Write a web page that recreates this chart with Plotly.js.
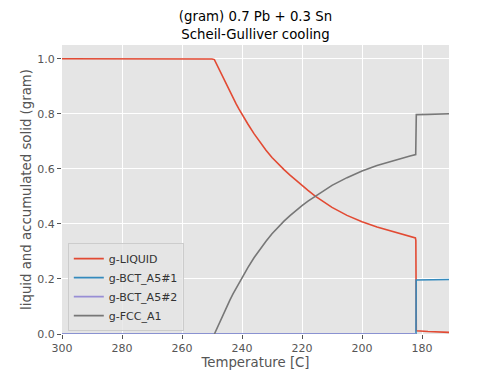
<!DOCTYPE html>
<html>
<head>
<meta charset="utf-8">
<script src="https://cdn.plot.ly/plotly-3.0.1.min.js"></script>
<style>html,body{margin:0;padding:0;background:#fff;}#chart{width:500px;height:375px;}</style>
</head>
<body>
<div id="chart"></div>
<script>
// Temperatures (C) and values (gram)
var liquidT = [300, 260, 250, 249.2, 248, 247, 246, 245, 244, 243, 242, 241, 240, 238, 236, 234, 232, 230, 228, 226, 224, 222, 220, 218, 215.6, 213, 210, 205, 200, 195, 190, 186, 184, 182.2, 182.05, 182.0, 181.9, 178, 171];
var liquidG = [1.0, 1.0, 0.999, 0.997, 0.970, 0.946, 0.923, 0.900, 0.878, 0.857, 0.837, 0.817, 0.798, 0.762, 0.728, 0.697, 0.668, 0.641, 0.618, 0.597, 0.577, 0.558, 0.540, 0.522, 0.501, 0.481, 0.460, 0.431, 0.408, 0.389, 0.373, 0.361, 0.355, 0.349, 0.34, 0.013, 0.012, 0.009, 0.006];

var bct1T = [300, 182.0, 181.95, 171];
var bct1G = [0, 0, 0.196, 0.198];

var bct2T = [300, 250, 200, 182.0];
var bct2G = [0, 0, 0, 0];

var fccT = [249.2, 248, 247, 246, 245, 244, 243, 242, 241, 240, 238, 236, 234, 232, 230, 228, 226, 224, 222, 220, 218, 215.6, 213, 210, 205, 200, 195, 190, 186, 184, 182.1, 182.0, 181.9, 178, 171];
var fccG = [0, 0.03, 0.055, 0.078, 0.102, 0.124, 0.146, 0.166, 0.186, 0.206, 0.242, 0.277, 0.308, 0.337, 0.364, 0.388, 0.41, 0.43, 0.449, 0.466, 0.483, 0.501, 0.52, 0.54, 0.568, 0.592, 0.612, 0.629, 0.641, 0.647, 0.652, 0.797, 0.797, 0.798, 0.80];

var xTicks = [300, 280, 260, 240, 220, 200, 180];
var yTicks = [0, 0.2, 0.4, 0.6, 0.8, 1.0];
var yTickText = ['0.0', '0.2', '0.4', '0.6', '0.8', '1.0'];

var font = 'DejaVu Sans, sans-serif';
function tr(x, y, name, color) {
  return {x: x, y: y, name: name, type: 'scatter', mode: 'lines',
          line: {color: color, width: 1.6}, hoverinfo: 'skip'};
}
var data = [
  tr(liquidT, liquidG, 'g-LIQUID', '#E24A33'),
  tr(bct1T, bct1G, 'g-BCT_A5#1', '#348ABD'),
  tr(bct2T, bct2G, 'g-BCT_A5#2', '#988ED5'),
  tr(fccT, fccG, 'g-FCC_A1', '#777777')
];
var layout = {
  width: 500, height: 375,
  margin: {l: 62, r: 51, t: 45, b: 41, pad: 0},
  paper_bgcolor: '#ffffff',
  plot_bgcolor: '#E5E5E5',
  font: {family: font, size: 11, color: '#555555'},
  title: {text: '(gram) 0.7 Pb + 0.3 Sn<br>Scheil-Gulliver cooling',
          font: {family: font, size: 13.3, color: '#000000'},
          x: 0.511, xanchor: 'center', y: 0.943, yanchor: 'top'},
  xaxis: {range: [300, 171], tickvals: xTicks, ticktext: xTicks.map(String),
          ticks: 'outside', ticklen: 4, tickcolor: '#555555', tickwidth: 1,
          showgrid: true, gridcolor: '#ffffff', gridwidth: 1, zeroline: false, showline: false,
          tickfont: {family: font, size: 11, color: '#555555'},
          title: {text: 'Temperature [C]', font: {family: font, size: 13.3, color: '#555555'}, standoff: 2}},
  yaxis: {range: [0, 1.05], tickvals: yTicks, ticktext: yTickText,
          ticks: 'outside', ticklen: 4, tickcolor: '#555555', tickwidth: 1,
          showgrid: true, gridcolor: '#ffffff', gridwidth: 1, zeroline: false, showline: false,
          tickfont: {family: font, size: 11, color: '#555555'},
          title: {text: 'liquid and accumulated solid (gram)', font: {family: font, size: 13.3, color: '#555555'}, standoff: 2}},
  legend: {x: 0.015, y: 0.01, xanchor: 'left', yanchor: 'bottom',
           bgcolor: 'rgba(229,229,229,0.8)', bordercolor: '#cccccc', borderwidth: 1,
           font: {family: font, size: 11, color: '#333333'}, itemwidth: 30, tracegroupgap: 0},
  showlegend: true
};
Plotly.newPlot('chart', data, layout, {staticPlot: true, displayModeBar: false});
</script>
</body>
</html>
